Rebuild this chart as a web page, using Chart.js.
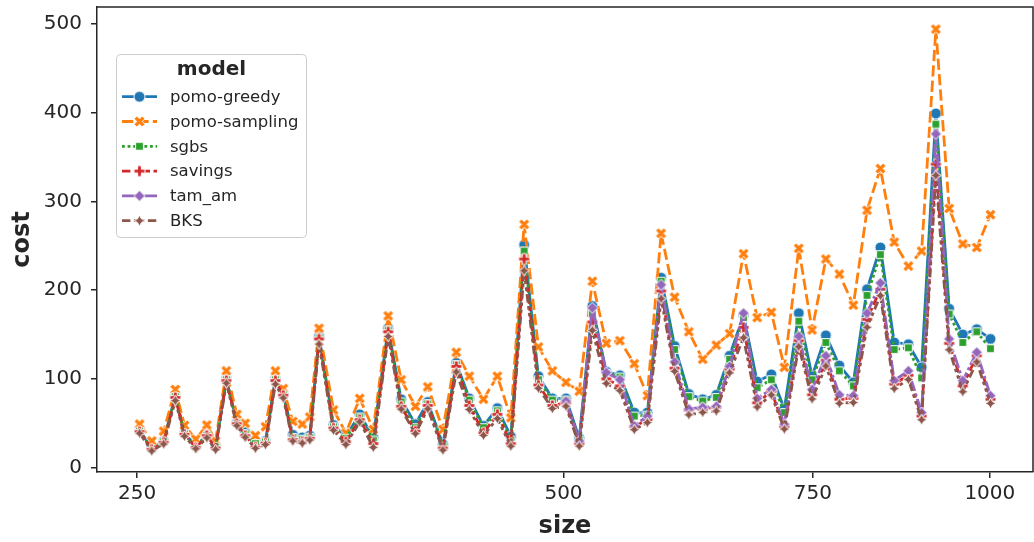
<!DOCTYPE html>
<html>
<head>
<meta charset="utf-8">
<script src="https://cdn.jsdelivr.net/npm/chart.js@4.4.1/dist/chart.umd.min.js"></script>
<style>
  html, body { margin: 0; padding: 0; background: #fff; }
</style>
</head>
<body>
<canvas id="chart" width="1034" height="542"></canvas>
<script>
// instance size (x, log axis)
const sizes = [251, 256, 261, 266, 270, 275, 280, 284, 289, 294, 298, 303, 308, 313, 317, 322, 327, 331, 336, 344,
  351, 359, 367, 376, 384, 393, 401, 411, 420, 429, 439, 449, 459, 469, 480, 491, 502, 513, 524, 536,
  548, 561, 573, 586, 599, 613, 627, 641, 655, 670, 685, 701, 716, 733, 749, 766, 783, 801, 819, 837,
  856, 876, 895, 916, 936, 957, 979, 1001];

const pomoGreedy = [42, 22, 30, 81, 39, 24, 37, 24, 100, 51, 40, 29, 30, 100, 83, 37, 34, 36, 148, 48,
  35, 60, 34, 157, 77, 49, 74, 26, 118, 78, 47, 67, 35, 251, 103, 78, 78, 33, 182, 108,
  104, 62, 62, 214, 137, 83, 77, 82, 126, 172, 97, 105, 66, 174, 103, 149, 115, 96, 201, 248,
  141, 139, 113, 399, 179, 150, 156, 145];

const pomoSampling = [49, 30, 41, 88, 47.6, 32, 48, 30, 109, 60, 50, 36, 46, 109, 89, 52, 49, 57, 157, 65,
  39, 78, 43, 171, 99, 69, 91, 43, 130, 103, 77, 103, 56, 274, 136, 109, 96, 86, 210, 140,
  143, 117, 81, 264, 192, 153, 122, 138, 151, 241, 169, 175, 113, 247, 155, 235, 218, 183, 290, 337,
  254, 227, 244, 494, 292, 252, 248, 285];

const sgbs = [41, 21, 29, 80, 38, 23, 36, 23, 99, 50, 38, 27, 29, 99, 82, 34, 32, 34, 146, 46,
  33, 57, 31, 155, 74, 45, 72, 24, 116, 76, 45, 64, 31, 244, 99, 76, 76, 31, 173, 106,
  102, 58, 59, 210, 133, 80, 75, 79, 122, 169, 90, 99, 62, 165, 99, 141, 109, 92, 194, 240,
  133, 135, 101, 387, 173, 141, 153, 134];

const savings = [40.5, 20.5, 28.5, 79, 37.5, 22.5, 36, 22, 98, 49.5, 36, 23, 27.5, 98, 81.5, 31.5, 29, 33, 145, 44.5,
  29, 54, 27, 153, 69, 41, 70, 22, 114, 70, 39, 60, 27, 235, 93, 70, 73, 27, 164, 100,
  92, 46, 54, 199, 112, 65, 66, 68, 111, 158, 73, 86, 46, 143, 82, 121, 77, 78, 167, 201,
  94, 104, 58, 342, 140, 92, 126, 77];

// tam_am has no result below 500
const tamAm = [null, null, null, null, null, null, null, null, null, null, null, null, null, null, null, null, null, null, null, null,
  null, null, null, null, null, null, null, null, null, null, null, null, null, null, null, null, 75, 30, 180, 107,
  99, 47, 58, 206, 119, 66, 68, 69, 114, 174, 78, 88, 49, 148, 88, 126, 82, 81, 174, 208,
  98, 109, 62, 376, 145, 98, 130, 81];

const bks = [38.7, 18.8, 26.6, 75.5, 35.3, 21.2, 33.5, 20.2, 95.2, 47.2, 34.2, 21.7, 25.9, 94.0, 78.4, 29.8, 27.5, 31.1, 139.1, 42.1,
  25.9, 51.5, 22.8, 147.7, 65.9, 38.3, 66.2, 19.7, 107.8, 65.4, 36.4, 55.2, 24.1, 221.8, 89.4, 66.5, 69.2, 24.2, 154.6, 94.8,
  86.7, 42.7, 50.7, 190.3, 108.5, 59.5, 62.2, 63.7, 106.8, 146.3, 68.2, 81.9, 43.4, 136.2, 77.3, 114.4, 72.4, 73.3, 158.1, 193.7,
  89.0, 99.3, 53.9, 329.2, 132.7, 85.5, 119.0, 72.4];

const xTicks = [250, 500, 750, 1000];
const yTicks = [0, 100, 200, 300, 400, 500];

const LW = 2.8;
const INK = '#262626';
const FONT = "'DejaVu Sans', sans-serif";

const series = [
  { name: 'pomo-greedy', values: pomoGreedy, color: '#1f77b4', shape: 'circle', dash: [] },
  { name: 'pomo-sampling', values: pomoSampling, color: '#ff7f0e', shape: 'x', dash: [4, 1.5] },
  { name: 'sgbs', values: sgbs, color: '#2ca02c', shape: 'square', dash: [1, 1] },
  { name: 'savings', values: savings, color: '#d62728', shape: 'plus', dash: [3, 1.25, 1.5, 1.25] },
  { name: 'tam_am', values: tamAm, color: '#9467bd', shape: 'diamond', dash: [5, 1, 1, 1] },
  { name: 'BKS', values: bks, color: '#8c564b', shape: 'star', dash: [3, 1.25, 1.25, 1.25, 1.25, 1.25] }
];

// matplotlib-like marker drawn once on a small canvas
function makeMarker(shape, color, s) {
  const d = Math.ceil(s + 4);
  const c = document.createElement('canvas');
  c.width = d; c.height = d;
  const g = c.getContext('2d');
  g.translate(d / 2, d / 2);
  const r = s / 2;
  g.beginPath();
  if (shape === 'circle') {
    g.arc(0, 0, r, 0, Math.PI * 2);
  } else if (shape === 'square') {
    const h = r / Math.SQRT2;
    g.rect(-h, -h, 2 * h, 2 * h);
  } else if (shape === 'diamond') {
    g.moveTo(0, -r); g.lineTo(r, 0); g.lineTo(0, r); g.lineTo(-r, 0); g.closePath();
  } else if (shape === 'star') {
    for (let i = 0; i < 8; i++) {
      const a = i * Math.PI / 4 - Math.PI / 2;
      const rr = i % 2 ? r * 0.5 : r;
      if (i === 0) g.moveTo(rr * Math.cos(a), rr * Math.sin(a));
      else g.lineTo(rr * Math.cos(a), rr * Math.sin(a));
    }
    g.closePath();
  } else if (shape === 'plus') {
    const pts = [[-1, -3], [1, -3], [1, -1], [3, -1], [3, 1], [1, 1], [1, 3], [-1, 3], [-1, 1], [-3, 1], [-3, -1], [-1, -1]];
    pts.forEach(([px, py], i) => i ? g.lineTo(px / 6 * s, py / 6 * s) : g.moveTo(px / 6 * s, py / 6 * s));
    g.closePath();
  } else if (shape === 'x') {
    const pts = [[-1, -2], [0, -1], [1, -2], [2, -1], [1, 0], [2, 1], [1, 2], [0, 1], [-1, 2], [-2, 1], [-1, 0], [-2, -1]];
    pts.forEach(([px, py], i) => i ? g.lineTo(px / 4 * s, py / 4 * s) : g.moveTo(px / 4 * s, py / 4 * s));
    g.closePath();
  }
  g.fillStyle = color;
  g.fill();
  g.lineWidth = 1;
  g.strokeStyle = '#ffffff';
  g.lineJoin = 'miter';
  g.stroke();
  return c;
}

series.forEach(s => {
  s.marker = makeMarker(s.shape, s.color, 11);
});

const datasets = series.map((s, i) => ({
  label: s.name,
  data: sizes.map((x, k) => ({ x: x, y: s.values[k] })),
  borderColor: s.color,
  backgroundColor: s.color,
  borderWidth: LW,
  borderDash: s.dash.map(v => v * LW),
  borderJoinStyle: 'round',
  tension: 0,
  fill: false,
  spanGaps: false,
  pointStyle: s.marker,
  pointRadius: 5,
  pointHoverRadius: 5,
  order: series.length - 1 - i
}));

// box legend with line + marker samples, like seaborn's
const boxLegend = {
  id: 'boxLegend',
  afterDraw(chart) {
    const ctx = chart.ctx;
    const x0 = 116.5, y0 = 54.5, w = 190, h = 183, rad = 4;
    ctx.save();
    ctx.beginPath();
    ctx.moveTo(x0 + rad, y0);
    ctx.arcTo(x0 + w, y0, x0 + w, y0 + h, rad);
    ctx.arcTo(x0 + w, y0 + h, x0, y0 + h, rad);
    ctx.arcTo(x0, y0 + h, x0, y0, rad);
    ctx.arcTo(x0, y0, x0 + w, y0, rad);
    ctx.closePath();
    ctx.fillStyle = 'rgba(255,255,255,0.8)';
    ctx.fill();
    ctx.strokeStyle = '#cccccc';
    ctx.lineWidth = 1;
    ctx.stroke();

    ctx.fillStyle = INK;
    ctx.font = "bold 20px " + FONT;
    ctx.textAlign = 'center';
    ctx.textBaseline = 'middle';
    ctx.fillText('model', x0 + w / 2, 70);

    ctx.font = "16.5px " + FONT;
    ctx.textAlign = 'left';
    series.forEach((s, i) => {
      const y = 96.7 + i * 24.8;
      ctx.beginPath();
      ctx.setLineDash(s.dash.map(v => v * LW));
      ctx.strokeStyle = s.color;
      ctx.lineWidth = LW;
      ctx.moveTo(122, y);
      ctx.lineTo(157, y);
      ctx.stroke();
      ctx.setLineDash([]);
      ctx.drawImage(s.marker, 139.5 - s.marker.width / 2, y - s.marker.height / 2);
      ctx.fillStyle = INK;
      ctx.fillText(s.name, 170, y + 1);
    });
    ctx.restore();
  }
};

// top and right spines
const frame = {
  id: 'frame',
  afterDatasetsDraw(chart) {
    const a = chart.chartArea;
    const ctx = chart.ctx;
    ctx.save();
    ctx.strokeStyle = INK;
    ctx.lineWidth = 1.5;
    ctx.beginPath();
    ctx.moveTo(a.left, a.top);
    ctx.lineTo(a.right, a.top);
    ctx.lineTo(a.right, a.bottom);
    ctx.stroke();
    ctx.restore();
  }
};

// no automatic room for overhanging tick labels, the frame is fixed
function noPadding(scale) {
  scale.paddingLeft = 0;
  scale.paddingRight = 0;
  scale.paddingTop = 0;
  scale.paddingBottom = 0;
}

new Chart(document.getElementById('chart'), {
  type: 'line',
  data: { datasets: datasets },
  options: {
    responsive: false,
    animation: false,
    devicePixelRatio: 1,
    events: [],
    layout: { autoPadding: false, padding: { top: 7, right: 1, left: 0, bottom: 0 } },
    plugins: { legend: { display: false }, tooltip: { enabled: false } },
    scales: {
      x: {
        type: 'logarithmic',
        min: 234.2,
        max: 1072.7,
        afterBuildTicks: scale => { scale.ticks = xTicks.map(v => ({ value: v })); },
        afterFit: scale => { scale.height = 70; noPadding(scale); },
        ticks: {
          autoSkip: false, maxRotation: 0, padding: 4,
          color: INK, font: { family: FONT, size: 20 },
          callback: v => String(v)
        },
        grid: { drawOnChartArea: false, drawTicks: true, tickLength: 6, color: INK, lineWidth: 1.5 },
        border: { color: INK, width: 1.5 },
        title: { display: true, text: 'size', color: INK, font: { family: FONT, size: 24, weight: 'bold' }, padding: { top: 0, bottom: 1 } }
      },
      y: {
        type: 'linear',
        min: -5,
        max: 519,
        afterBuildTicks: scale => { scale.ticks = yTicks.map(v => ({ value: v })); },
        afterFit: scale => { scale.width = 97; noPadding(scale); },
        ticks: {
          padding: 9,
          color: INK, font: { family: FONT, size: 20 },
          callback: v => String(v)
        },
        grid: { drawOnChartArea: false, drawTicks: true, tickLength: 6, color: INK, lineWidth: 1.5 },
        border: { color: INK, width: 1.5 },
        title: { display: true, text: 'cost', color: INK, font: { family: FONT, size: 24, weight: 'bold' }, padding: { top: 8, bottom: 0 } }
      }
    }
  },
  plugins: [boxLegend, frame]
});
</script>
</body>
</html>
